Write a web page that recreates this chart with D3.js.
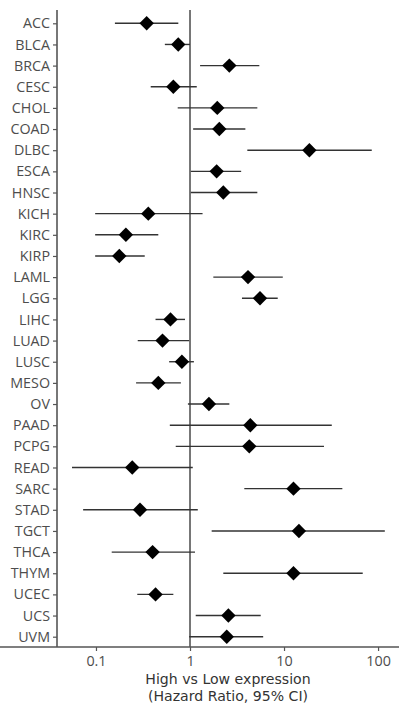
<!DOCTYPE html>
<html>
<head>
<meta charset="utf-8">
<script src="https://cdn.jsdelivr.net/npm/d3@7"></script>
<style>
  html, body { margin: 0; padding: 0; background: #fff; }
  svg { display: block; font-family: "Open Sans", "Noto Sans", sans-serif; }
</style>
</head>
<body>
<svg id="chart" width="399" height="704"></svg>
<script>
// Forest plot: hazard ratio per cancer type
const cancers = ['ACC', 'BLCA', 'BRCA', 'CESC', 'CHOL', 'COAD', 'DLBC', 'ESCA', 'HNSC', 'KICH',
  'KIRC', 'KIRP', 'LAML', 'LGG', 'LIHC', 'LUAD', 'LUSC', 'MESO', 'OV', 'PAAD',
  'PCPG', 'READ', 'SARC', 'STAD', 'TGCT', 'THCA', 'THYM', 'UCEC', 'UCS', 'UVM'];
const hr = [0.346, 0.75, 2.62, 0.665, 1.95, 2.05, 18.6, 1.92, 2.26, 0.36,
  0.208, 0.177, 4.14, 5.55, 0.62, 0.51, 0.82, 0.46, 1.59, 4.38,
  4.27, 0.243, 12.6, 0.294, 14.4, 0.40, 12.6, 0.43, 2.56, 2.46];
const ciLow = [0.159, 0.54, 1.28, 0.382, 0.74, 1.08, 4.07, 1.02, 1.02, 0.098,
  0.098, 0.098, 1.77, 3.57, 0.43, 0.278, 0.60, 0.267, 0.95, 0.61,
  0.705, 0.0556, 3.78, 0.073, 1.70, 0.147, 2.26, 0.275, 1.15, 0.98];
const ciHigh = [0.751, 1.0, 5.46, 1.18, 5.2, 3.88, 85.7, 3.5, 5.2, 1.36,
  0.46, 0.33, 9.7, 8.57, 0.885, 0.98, 1.10, 0.80, 2.62, 32.2,
  26.6, 1.07, 41.7, 1.21, 118, 1.13, 68.7, 0.665, 5.65, 6.0];
const xTicks = [0.1, 1, 10, 100];
const xDomain = [0.0385, 167];
const xTitle = ['High vs Low expression', '(Hazard Ratio, 95% CI)'];

const rows = cancers.map((c, i) => ({ name: c, hr: hr[i], lo: ciLow[i], hi: ciHigh[i] }));

const W = 399, H = 704;
const m = { top: 12, right: 0, bottom: 57, left: 57 };
const svg = d3.select('#chart');

const x = d3.scaleLog().domain(xDomain).range([m.left, W - m.right]);
const y = d3.scalePoint().domain(cancers).range([23.3, 636.7]);

const axisCol = '#555';
const textCol = '#4d4d4d';

// reference line at HR = 1
svg.append('line')
  .attr('x1', x(1)).attr('x2', x(1))
  .attr('y1', 10).attr('y2', H - m.bottom)
  .attr('stroke', axisCol).attr('stroke-width', 1.6);

// CI segments
svg.append('g').selectAll('line').data(rows).enter()
  .append('line')
  .attr('x1', d => x(d.lo)).attr('x2', d => x(d.hi))
  .attr('y1', d => y(d.name)).attr('y2', d => y(d.name))
  .attr('stroke', '#333').attr('stroke-width', 1.4);

// diamonds
const r = 7.2;
svg.append('g').selectAll('path').data(rows).enter()
  .append('path')
  .attr('transform', d => `translate(${x(d.hr)},${y(d.name)})`)
  .attr('d', `M0,${-r}L${r},0L0,${r}L${-r},0Z`)
  .attr('fill', '#000');

// axes
const xAxis = svg.append('g')
  .attr('transform', `translate(0,${H - m.bottom})`)
  .call(d3.axisBottom(x).tickValues(xTicks).tickFormat(d3.format('~g')).tickSizeOuter(0).tickSize(4));
const yAxis = svg.append('g')
  .attr('transform', `translate(${m.left},0)`)
  .call(d3.axisLeft(y).tickSizeOuter(0).tickSize(4).tickPadding(3));

[xAxis, yAxis].forEach(a => {
  a.select('.domain').attr('stroke', axisCol).attr('stroke-width', 1.6);
  a.selectAll('.tick line').attr('stroke', axisCol).attr('stroke-width', 1.2);
  a.selectAll('.tick text').attr('fill', textCol).attr('font-size', 14.3)
    .attr('font-family', '"Open Sans", "Noto Sans", sans-serif');
});
// stretch left axis to top of panel
yAxis.select('.domain').attr('d', `M0,10V${H - m.bottom}`);
xAxis.select('.domain').attr('d', `M0,0H${W}`);
xAxis.selectAll('.tick text').attr('dy', '0.85em');

// x-axis title (two lines in one text element)
const cx = (m.left + W) / 2;
svg.append('text').attr('y', 684)
  .attr('text-anchor', 'middle').attr('font-size', 14.1).attr('fill', '#333')
  .attr('font-family', '"DejaVu Sans", sans-serif')
  .selectAll('tspan').data(xTitle).enter()
  .append('tspan')
  .attr('x', cx)
  .attr('dy', (d, i) => i ? 17 : 0)
  .text(d => d);
</script>
</body>
</html>
